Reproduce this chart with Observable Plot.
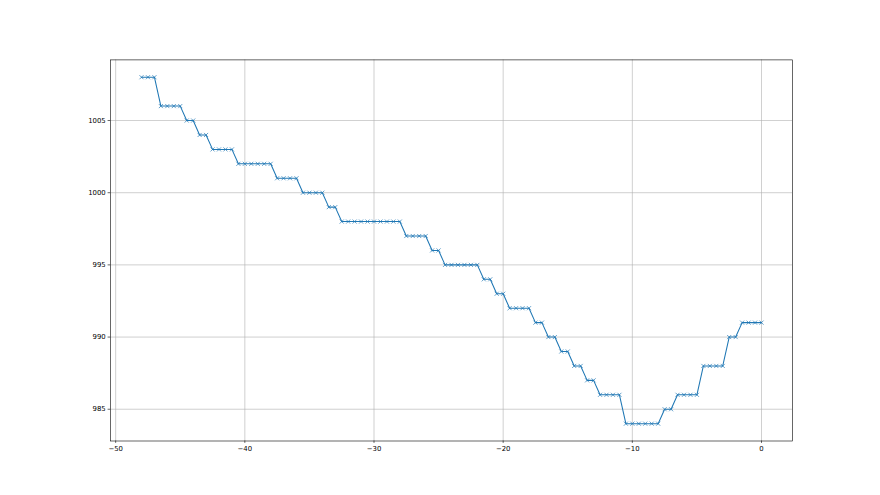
<!DOCTYPE html>
<html>
<head>
<meta charset="utf-8">
<script src="https://cdn.jsdelivr.net/npm/d3@7"></script>
<script src="https://cdn.jsdelivr.net/npm/@observablehq/plot@0.6"></script>
<style>
  html, body { margin: 0; padding: 0; background: #fff; }
</style>
</head>
<body>
<div id="chart"></div>
<script>
// x positions: -48 to 0 in steps of 0.5 (97 points)
const xValues = [
  -48, -47.5, -47, -46.5, -46, -45.5, -45, -44.5, -44, -43.5, -43, -42.5, -42, -41.5, -41,
  -40.5, -40, -39.5, -39, -38.5, -38, -37.5, -37, -36.5, -36, -35.5, -35, -34.5, -34,
  -33.5, -33, -32.5, -32, -31.5, -31, -30.5, -30, -29.5, -29, -28.5, -28,
  -27.5, -27, -26.5, -26, -25.5, -25, -24.5, -24, -23.5, -23, -22.5, -22,
  -21.5, -21, -20.5, -20, -19.5, -19, -18.5, -18, -17.5, -17, -16.5, -16,
  -15.5, -15, -14.5, -14, -13.5, -13, -12.5, -12, -11.5, -11,
  -10.5, -10, -9.5, -9, -8.5, -8, -7.5, -7, -6.5, -6, -5.5, -5,
  -4.5, -4, -3.5, -3, -2.5, -2, -1.5, -1, -0.5, 0
];
const yValues = [
  1008, 1008, 1008, 1006, 1006, 1006, 1006, 1005, 1005, 1004, 1004, 1003, 1003, 1003, 1003,
  1002, 1002, 1002, 1002, 1002, 1002, 1001, 1001, 1001, 1001, 1000, 1000, 1000, 1000,
  999, 999, 998, 998, 998, 998, 998, 998, 998, 998, 998, 998,
  997, 997, 997, 997, 996, 996, 995, 995, 995, 995, 995, 995,
  994, 994, 993, 993, 992, 992, 992, 992, 991, 991, 990, 990,
  989, 989, 988, 988, 987, 987, 986, 986, 986, 986,
  984, 984, 984, 984, 984, 984, 985, 985, 986, 986, 986, 986,
  988, 988, 988, 988, 990, 990, 991, 991, 991, 991
];
const xTicks = [-50, -40, -30, -20, -10, 0];
const yTicks = [985, 990, 995, 1000, 1005];

const data = xValues.map((x, i) => ({x, y: yValues[i]}));
const fmtMinus = d => (d < 0 ? "\u2212" + Math.abs(d) : String(d));

const chart = Plot.plot({
  width: 880,
  height: 495,
  marginLeft: 110,
  marginRight: 88,
  marginTop: 59.4,
  marginBottom: 54.5,
  style: {fontFamily: "DejaVu Sans", fontSize: "6.9px", background: "#fff", color: "#000"},
  x: {domain: [-50.4, 2.4]},
  y: {domain: [982.8, 1009.2]},
  marks: [
    Plot.gridX(xTicks, {stroke: "#b0b0b0", strokeOpacity: 1, strokeWidth: 0.6}),
    Plot.gridY(yTicks, {stroke: "#b0b0b0", strokeOpacity: 1, strokeWidth: 0.6}),
    Plot.line(data, {x: "x", y: "y", stroke: "#1f77b4", strokeWidth: 1.05}),
    Plot.dot(data, {x: "x", y: "y", symbol: "times", r: 2, stroke: "#1f77b4", strokeWidth: 0.7}),
    Plot.frame({stroke: "#000", strokeWidth: 0.6}),
    Plot.axisX(xTicks, {tickSize: 2.4, tickPadding: 2.4, tickFormat: fmtMinus, label: null, stroke: "#000", strokeWidth: 0.6}),
    Plot.axisY(yTicks, {tickSize: 2.4, tickPadding: 2.4, tickFormat: d => String(d), label: null, stroke: "#000", strokeWidth: 0.6})
  ]
});
document.getElementById("chart").appendChild(chart);
</script>
</body>
</html>
